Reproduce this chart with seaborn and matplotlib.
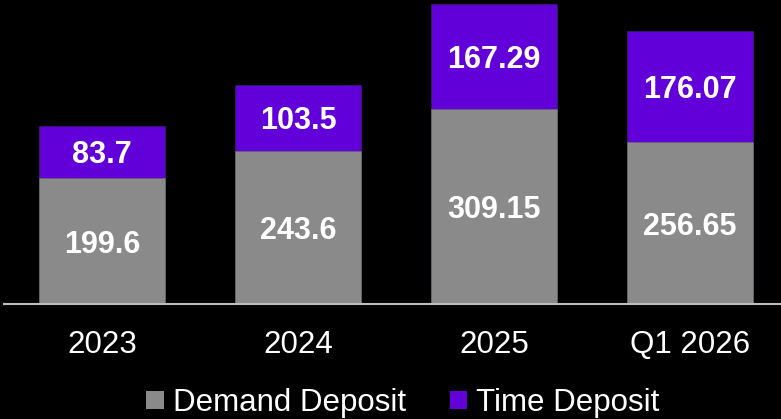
import matplotlib
matplotlib.use("Agg")
import matplotlib.pyplot as plt
from matplotlib.patches import Patch
import pandas as pd
import seaborn as sns

# chart values
periods = ["2023", "2024", "2025", "Q1 2026"]
demand_deposit = [199.6, 243.6, 309.15, 256.65]
time_deposit = [83.7, 103.5, 167.29, 176.07]
demand_labels = ["199.6", "243.6", "309.15", "256.65"]
time_labels = ["83.7", "103.5", "167.29", "176.07"]

GRAY = "#8A8A8A"
PURPLE = "#6200DA"

plt.rcParams["font.family"] = ["Liberation Sans", "DejaVu Sans"]

df = pd.DataFrame({
    "period": periods,
    "demand": demand_deposit,
    "time": time_deposit,
})
df["total"] = df["demand"] + df["time"]

fig = plt.figure(figsize=(7.81, 4.19), dpi=100, facecolor="black")
ax = fig.add_axes([4 / 781, (419 - 304) / 419, 776 / 781, 304 / 419])
ax.set_facecolor("black")

# stacked bars: total (purple) first, demand (gray) drawn over it
sns.barplot(data=df, x="period", y="total", color=PURPLE, saturation=1,
            width=0.643, edgecolor="#3a1a6a", linewidth=0.5, ax=ax)
sns.barplot(data=df, x="period", y="demand", color=GRAY, saturation=1,
            width=0.643, edgecolor="#6a6a6a", linewidth=0.5, ax=ax)

for i, row in df.iterrows():
    ax.text(i, row["demand"] / 2, demand_labels[i], ha="center",
            va="center_baseline", color="white", fontsize=22, fontweight="bold")
    ax.text(i, row["demand"] + row["time"] / 2, time_labels[i], ha="center",
            va="center_baseline", color="white", fontsize=22, fontweight="bold")

ax.set_xlim(-0.5, 3.46)
ax.set_ylim(0, 482.5)
ax.set_xlabel("")
ax.set_ylabel("")
ax.set_yticks([])
ax.tick_params(axis="x", length=0, pad=19, labelsize=22.5, labelcolor="white")

for side in ["top", "left", "right"]:
    ax.spines[side].set_visible(False)
ax.spines["bottom"].set_color("#BFBFBF")
ax.spines["bottom"].set_linewidth(1.5)

handles = [Patch(facecolor=GRAY, label="Demand Deposit"),
           Patch(facecolor=PURPLE, label="Time Deposit")]
fig.legend(handles=handles, loc="center", bbox_to_anchor=(403 / 781, 16 / 419),
           ncol=2, frameon=False, fontsize=22.5, labelcolor="white",
           handlelength=0.55, handleheight=0.55, handletextpad=0.3,
           columnspacing=1.4, borderpad=0, borderaxespad=0)

fig.savefig("out.png", dpi=100, facecolor="black")
